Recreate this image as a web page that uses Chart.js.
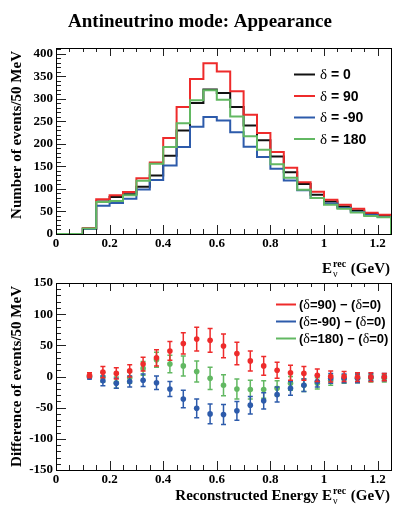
<!DOCTYPE html>
<html>
<head>
<meta charset="utf-8">
<script src="https://cdn.jsdelivr.net/npm/chart.js@4.4.0/dist/chart.umd.min.js"></script>
<style>
  html, body { margin: 0; padding: 0; background: #fff; }
  #page { position: relative; width: 399px; height: 517px; overflow: hidden; }
  #topBox { position: absolute; left: 0; top: 0; width: 399px; height: 280px; }
  #botBox { position: absolute; left: 0; top: 265px; width: 399px; height: 252px; }
</style>
</head>
<body>
<div id="page">
  <div id="topBox"><canvas id="histChart" width="399" height="280"></canvas></div>
  <div id="botBox"><canvas id="diffChart" width="399" height="252"></canvas></div>
</div>
<script>
// ---- data ----
const binEdges = [0.00, 0.05, 0.10, 0.15, 0.20, 0.25, 0.30, 0.35, 0.40, 0.45, 0.50, 0.55, 0.60,
                  0.65, 0.70, 0.75, 0.80, 0.85, 0.90, 0.95, 1.00, 1.05, 1.10, 1.15, 1.20];
const lastEdge = 1.25;

const evtDelta0   = [0, 0, 12, 72, 82, 88, 105, 130, 174, 230, 291, 321, 313, 282, 241, 208, 172, 137, 111, 87, 72, 61, 52, 45, 41];
const evtDelta90  = [0, 0, 13, 77, 86, 93, 124, 159, 213, 282, 344, 379, 361, 317, 265, 224, 182, 147, 115, 94, 76, 65, 56, 47, 43];
const evtDeltaM90 = [0, 0, 11, 63, 69, 78, 99, 120, 152, 193, 238, 260, 252, 226, 194, 171, 145, 119, 97, 80, 68, 58, 49, 42, 38];
const evtDelta180 = [0, 0, 12, 71, 73, 86, 118, 156, 193, 246, 297, 319, 298, 261, 217, 187, 155, 125, 98, 80, 65, 56, 48, 40, 37];

const binCenters = [0.125, 0.175, 0.225, 0.275, 0.325, 0.375, 0.425, 0.475, 0.525, 0.575, 0.625, 0.675,
                    0.725, 0.775, 0.825, 0.875, 0.925, 0.975, 1.025, 1.075, 1.125, 1.175, 1.225];
const diff90   = [2, 7, 5, 9, 20, 30, 41, 53, 60, 58, 49, 37, 25, 17, 10, 6, 5, 2, 0, 0, -1, -1, -1];
const diffM90  = [-1, -7, -11, -8, -6, -10, -20, -36, -51, -60, -61, -55, -46, -39, -29, -19, -14, -8, -3, -3, -3, -1, -1];
const diff180  = [0, -1, -10, -2, 13, 27, 20, 17, 8, -3, -14, -20, -21, -21, -19, -11, -14, -11, -6, -4, -3, -3, -3];
const err90    = [4, 9, 9, 10, 11, 13, 15, 17, 19, 19, 19, 18, 16, 15, 13, 12, 11, 10, 9, 8, 7, 7, 6];
const errM90   = [3, 8, 8, 9, 10, 11, 12, 14, 15, 16, 16, 15, 14, 13, 12, 11, 10, 9, 8, 7, 7, 6, 6];
const err180   = [3, 8, 9, 9, 11, 12, 14, 16, 17, 18, 17, 16, 15, 14, 12, 11, 10, 9, 8, 7, 7, 6, 6];

const xTicks = [0, 0.2, 0.4, 0.6, 0.8, 1, 1.2];
const yTicksTop = [0, 50, 100, 150, 200, 250, 300, 350, 400];
const yTicksBot = [-150, -100, -50, 0, 50, 100, 150];

const histLabels = ['δ = 0', 'δ = 90', 'δ = -90', 'δ = 180'];
const diffLabels = ['(δ=90) − (δ=0)', '(δ=-90) − (δ=0)', '(δ=180) − (δ=0)'];

const cBlack = '#111111', cRed = '#ee2b2b', cBlue = '#2d5bab', cGreen = '#62b862';
const serif = '"Liberation Serif", "DejaVu Serif", serif';
const sans = '"Liberation Sans", Arial, sans-serif';

// ---- helpers ----
function histPoints(vals) {
  const pts = binEdges.map((x, i) => ({ x: x, y: vals[i] }));
  pts.push({ x: lastEdge, y: 0 });
  return pts;
}

function drawFrameTicks(chart, xMinor, xMajor, yMinor, yMajor) {
  const ctx = chart.ctx, a = chart.chartArea;
  const xs = chart.scales.x, ys = chart.scales.y;
  ctx.save();
  ctx.strokeStyle = '#222';
  ctx.lineWidth = 1;
  ctx.beginPath();
  const nx = Math.round((xs.max - xs.min) / xMinor);
  for (let k = 0; k <= nx; k++) {
    const v = xs.min + k * xMinor;
    const major = Math.abs(v / xMajor - Math.round(v / xMajor)) < 1e-6;
    const len = major ? 9 : 5;
    const px = Math.round(xs.getPixelForValue(v)) + 0.5;
    ctx.moveTo(px, a.bottom); ctx.lineTo(px, a.bottom - len);
    ctx.moveTo(px, a.top); ctx.lineTo(px, a.top + (major ? 8 : 4));
  }
  const ny = Math.round((ys.max - ys.min) / yMinor);
  const y0 = Math.ceil(ys.min / yMinor) * yMinor;
  for (let k = 0; k <= ny; k++) {
    const v = y0 + k * yMinor;
    if (v > ys.max) break;
    const major = Math.abs(v / yMajor - Math.round(v / yMajor)) < 1e-6;
    const len = major ? 10 : 5;
    const py = Math.round(ys.getPixelForValue(v)) + 0.5;
    ctx.moveTo(a.left, py); ctx.lineTo(a.left + len, py);
  }
  ctx.stroke();
  ctx.strokeStyle = '#000';
  ctx.strokeRect(Math.round(a.left) + 0.5, Math.round(a.top) + 0.5,
                 Math.round(a.right - a.left), Math.round(a.bottom - a.top));
  ctx.restore();
}

function drawYTitle(ctx, text, x, yTop, size) {
  ctx.save();
  ctx.translate(x, yTop);
  ctx.rotate(-Math.PI / 2);
  ctx.font = 'bold ' + size + 'px ' + serif;
  ctx.fillStyle = '#000';
  ctx.textAlign = 'right';
  ctx.textBaseline = 'alphabetic';
  ctx.fillText(text, 0, 0);
  ctx.restore();
}

function drawEnergyTitle(ctx, prefix, rightX, baseY, size) {
  const small = Math.round(size * 0.68);
  ctx.save();
  ctx.fillStyle = '#000';
  ctx.textBaseline = 'alphabetic';
  ctx.textAlign = 'left';
  ctx.font = 'bold ' + size + 'px ' + serif;
  const w1 = ctx.measureText(prefix + 'E').width;
  const w3 = ctx.measureText(' (GeV)').width;
  ctx.font = small + 'px ' + serif;
  const wNu = ctx.measureText('ν').width;
  ctx.font = 'bold ' + small + 'px ' + serif;
  const wRec = ctx.measureText('rec').width;
  const wS = Math.max(wNu, wRec) + 2;
  const x0 = rightX - (w1 + wS + w3);
  ctx.font = 'bold ' + size + 'px ' + serif;
  ctx.fillText(prefix + 'E', x0, baseY);
  ctx.fillText(' (GeV)', x0 + w1 + wS, baseY);
  ctx.font = 'bold ' + small + 'px ' + serif;
  ctx.fillText('rec', x0 + w1 + 1, baseY - size * 0.42);
  ctx.font = small + 'px ' + serif;
  ctx.fillText('ν', x0 + w1 + 1, baseY + size * 0.28);
  ctx.restore();
}

// text where δ is drawn in a serif face, the rest in bold sans
function drawRich(ctx, text, x, y, size) {
  const parts = text.split(/(δ)/);
  let cx = x;
  for (const p of parts) {
    if (!p) continue;
    ctx.font = p === 'δ' ? (size + 1) + 'px ' + serif : 'bold ' + size + 'px ' + sans;
    ctx.fillText(p, cx, y);
    cx += ctx.measureText(p).width;
  }
}

function drawLegend(chart, labels, x1, x2, textX, yFirst, dy, size) {
  const ctx = chart.ctx;
  ctx.save();
  ctx.textBaseline = 'middle';
  ctx.textAlign = 'left';
  ctx.fillStyle = '#000';
  labels.forEach((lab, i) => {
    const ds = chart.data.datasets[i];
    const y = yFirst + i * dy;
    ctx.strokeStyle = ds.borderColor;
    ctx.lineWidth = 2;
    ctx.beginPath();
    ctx.moveTo(x1, y); ctx.lineTo(x2, y);
    ctx.stroke();
    drawRich(ctx, lab, textX, y + 1, size);
  });
  ctx.restore();
}

const fixedTicks = (vals) => (scale) => { scale.ticks = vals.map(v => ({ value: v })); };
const tickFont = { family: serif, weight: 'bold', size: 13 };

// ---- top: event histograms ----
const histDecor = {
  id: 'histDecor',
  afterDraw(chart) {
    const ctx = chart.ctx, a = chart.chartArea;
    drawFrameTicks(chart, 0.05, 0.2, 10, 50);
    ctx.save();
    ctx.font = 'bold 19px ' + serif;
    ctx.fillStyle = '#000';
    ctx.textAlign = 'center';
    ctx.fillText('Antineutrino mode: Appearance', 200, 27);
    ctx.restore();
    drawYTitle(ctx, 'Number of events/50 MeV', 21, a.top + 3, 15);
    drawEnergyTitle(ctx, '', 390, 273, 15);
    drawLegend(chart, histLabels, 294, 315, 320, 74.5, 21.5, 14);
  }
};

new Chart(document.getElementById('histChart'), {
  type: 'line',
  data: {
    datasets: [
      { label: histLabels[0], data: histPoints(evtDelta0),   borderColor: cBlack, order: 3 },
      { label: histLabels[1], data: histPoints(evtDelta90),  borderColor: cRed,   order: 2 },
      { label: histLabels[2], data: histPoints(evtDeltaM90), borderColor: cBlue,  order: 1 },
      { label: histLabels[3], data: histPoints(evtDelta180), borderColor: cGreen, order: 0 }
    ].map(d => Object.assign(d, { stepped: 'before', borderWidth: 2, pointRadius: 0, fill: false, clip: 4 }))
  },
  options: {
    responsive: false,
    animation: false,
    layout: { padding: { top: 48, right: 8, left: 0, bottom: 0 } },
    plugins: { legend: { display: false }, tooltip: { enabled: false } },
    scales: {
      x: {
        type: 'linear', min: 0, max: lastEdge,
        afterBuildTicks: fixedTicks(xTicks),
        afterFit: (s) => { s.height = 46; },
        grid: { display: false, drawTicks: false },
        border: { display: false },
        ticks: { font: tickFont, color: '#000', padding: 2, maxRotation: 0, autoSkip: false,
                 callback: (v) => String(Math.round(v * 10) / 10) }
      },
      y: {
        type: 'linear', min: 0, max: 413,
        afterBuildTicks: fixedTicks(yTicksTop),
        afterFit: (s) => { s.width = 56; },
        grid: { display: false, drawTicks: false },
        border: { display: false },
        ticks: { font: tickFont, color: '#000', padding: 3, autoSkip: false }
      }
    }
  },
  plugins: [histDecor]
});

// ---- bottom: differences with error bars ----
const errorBars = {
  id: 'errorBars',
  beforeDatasetDraw(chart, args) {
    const ds = chart.data.datasets[args.index];
    if (!ds.errors) return;
    const ctx = chart.ctx, xs = chart.scales.x, ys = chart.scales.y;
    ctx.save();
    ctx.strokeStyle = ds.borderColor;
    ctx.lineWidth = 1.5;
    ctx.beginPath();
    ds.data.forEach((p, i) => {
      const px = xs.getPixelForValue(p.x);
      const yHi = ys.getPixelForValue(p.y + ds.errors[i]);
      const yLo = ys.getPixelForValue(p.y - ds.errors[i]);
      ctx.moveTo(px, yHi); ctx.lineTo(px, yLo);
      ctx.moveTo(px - 2.5, yHi); ctx.lineTo(px + 2.5, yHi);
      ctx.moveTo(px - 2.5, yLo); ctx.lineTo(px + 2.5, yLo);
    });
    ctx.stroke();
    ctx.restore();
  }
};

// bottom canvas starts at page y = 265
const diffDecor = {
  id: 'diffDecor',
  afterDraw(chart) {
    const ctx = chart.ctx, a = chart.chartArea;
    drawFrameTicks(chart, 0.05, 0.2, 10, 50);
    drawYTitle(ctx, 'Difference of events/50 MeV', 21, a.top + 3, 15);
    drawEnergyTitle(ctx, 'Reconstructed Energy ', 390, 235, 15);
    drawLegend(chart, diffLabels, 276, 296, 299, 39.5, 17, 13);
  }
};

const diffPoints = (vals) => binCenters.map((x, i) => ({ x: x, y: vals[i] }));

new Chart(document.getElementById('diffChart'), {
  type: 'scatter',
  data: {
    datasets: [
      { label: diffLabels[0], data: diffPoints(diff90),  errors: err90,  borderColor: cRed,   backgroundColor: cRed },
      { label: diffLabels[1], data: diffPoints(diffM90), errors: errM90, borderColor: cBlue,  backgroundColor: cBlue },
      { label: diffLabels[2], data: diffPoints(diff180), errors: err180, borderColor: cGreen, backgroundColor: cGreen }
    ].map(d => Object.assign(d, { pointRadius: 2.8, pointBorderWidth: 0, showLine: false }))
  },
  options: {
    responsive: false,
    animation: false,
    layout: { padding: { top: 18, right: 8, left: 0, bottom: 0 } },
    plugins: { legend: { display: false }, tooltip: { enabled: false } },
    scales: {
      x: {
        type: 'linear', min: 0, max: lastEdge,
        afterBuildTicks: fixedTicks(xTicks),
        afterFit: (s) => { s.height = 47; },
        grid: { display: false, drawTicks: false },
        border: { display: false },
        ticks: { font: tickFont, color: '#000', padding: 2, maxRotation: 0, autoSkip: false,
                 callback: (v) => String(Math.round(v * 10) / 10) }
      },
      y: {
        type: 'linear', min: -150, max: 150,
        afterBuildTicks: fixedTicks(yTicksBot),
        afterFit: (s) => { s.width = 56; },
        grid: { display: false, drawTicks: false },
        border: { display: false },
        ticks: { font: tickFont, color: '#000', padding: 3, autoSkip: false }
      }
    }
  },
  plugins: [errorBars, diffDecor]
});
</script>
</body>
</html>
